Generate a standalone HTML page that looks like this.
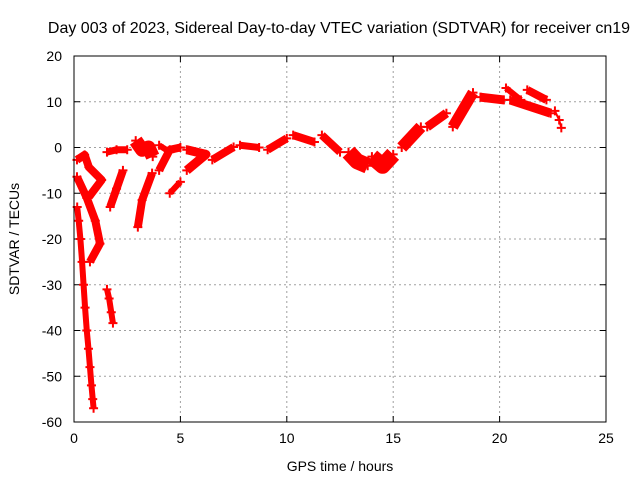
<!DOCTYPE html>
<html><head><meta charset="utf-8"><style>
html,body{margin:0;padding:0;background:#fff;}
svg{display:block;font-family:"Liberation Sans",sans-serif;}
</style></head><body>
<svg id="chart" width="640" height="480" viewBox="0 0 640 480">
<text x="339" y="33" text-anchor="middle" font-size="16">Day 003 of 2023, Sidereal Day-to-day VTEC variation (SDTVAR) for receiver cn19</text>
<g id="grid"></g>
<g id="ticks"></g>
<g id="marks"></g>
<rect x="74" y="56" width="532" height="366" fill="none" stroke="#000" stroke-width="1"/>
<text x="340" y="471" text-anchor="middle" font-size="14">GPS time / hours</text>
<text transform="translate(19,239) rotate(-90)" text-anchor="middle" font-size="14">SDTVAR / TECUs</text>
</svg>
<script>
const xTicks=[0,5,10,15,20,25];
const yTicks=[-60,-50,-40,-30,-20,-10,0,10,20];
const tracks=[
[[0.15,-13],[0.22,-16],[0.3,-20],[0.38,-25],[0.45,-30],[0.52,-35],[0.6,-40],[0.68,-44],[0.75,-48],[0.82,-52],[0.88,-55],[0.92,-57]],
[[0.14,-6.4],[0.6,-11],[1.0,-16],[1.22,-21],[0.75,-25]],
[[0.14,-2.7],[0.5,-1.6],[0.7,-4.3],[1.3,-7.1],[0.7,-10.8]],
[[1.55,-31],[1.65,-33],[1.75,-36],[1.83,-38.4]],
[[1.7,-13],[2.0,-9],[2.3,-5]],
[[1.55,-1],[2.0,-0.5],[2.5,-0.5]],
[[3.0,-17.4],[3.2,-11.5],[3.67,-5.6]],
[[2.9,1.5],[3.2,-0.5],[3.5,0],[3.7,-2]],
[[4.0,-5],[4.5,-0.5],[5.0,0]],
[[4.0,0.5],[4.5,-1]],
[[4.5,-10],[5.0,-7.5]],
[[5.3,-0.5],[6.2,-1.5],[5.3,-5]],
[[6.5,-2.7],[7.5,0.1]],
[[7.8,0.5],[8.7,0]],
[[9.1,-0.5],[10,2]],
[[10.3,2.7],[11.3,1.2]],
[[11.65,2.7],[12.5,-1]],
[[12.9,-1],[13.3,-3],[13.8,-4]],
[[14.0,-2],[14.5,-4],[15.0,-1.5]],
[[15.4,0],[16.3,4.5]],
[[16.6,4.5],[17.5,7.5]],
[[17.8,4.5],[18.75,12]],
[[19.1,11],[20.2,10.4]],
[[20.3,13],[21,10.4]],
[[20.5,10.4],[22.4,7.5]],
[[21.3,12.6],[22.2,10.4]],
[[22.6,8],[22.8,6],[22.9,4.3]]
];
const widths=[6,8,8,6,8,7,8,14,8,6,6,9,8,7,8,8,8,16,16,12,9,11,9,6,9,8,2];
const X=t=>74+t*(532/25);
const Y=v=>56+(20-v)*(366/80);
const NS='http://www.w3.org/2000/svg';
const grid=document.getElementById('grid'),ticks=document.getElementById('ticks'),marks=document.getElementById('marks');
function mk(tag,attrs,parent){const e=document.createElementNS(NS,tag);for(const k in attrs)e.setAttribute(k,attrs[k]);parent.appendChild(e);return e;}
xTicks.forEach(t=>{
  if(t>0&&t<25){const g=mk('line',{x1:X(t),x2:X(t),y1:56,y2:422,stroke:'#a0a0a0','stroke-dasharray':'2,3'},grid);
  
  }
  const tk=mk('path',{d:`M${X(t)},422v-6M${X(t)},56v6`,stroke:'#000'},ticks);
  
  
  const l=mk('text',{x:X(t),y:443,'text-anchor':'middle','font-size':'14'},ticks);l.textContent=t;
  
  
});
yTicks.forEach(v=>{
  if(v>-60&&v<20){const g=mk('line',{x1:74,x2:606,y1:Y(v),y2:Y(v),stroke:'#a0a0a0','stroke-dasharray':'2,3'},grid);
  
  }
  const tk=mk('path',{d:`M74,${Y(v)}h6M606,${Y(v)}h-6`,stroke:'#000'},ticks);
  
  
  const l=mk('text',{x:62,y:Y(v)+5,'text-anchor':'end','font-size':'14'},ticks);l.textContent=v;
  
  
});
tracks.forEach((tr,i)=>{
  const p=mk('polyline',{points:tr.map(d=>X(d[0])+','+Y(d[1])).join(' '),fill:'none',stroke:'#f00','stroke-width':widths[i],'stroke-linejoin':'round','stroke-linecap':'butt'},marks);
  
  
  tr.forEach(d=>{
    const m=mk('path',{d:`M${X(d[0])-4.5},${Y(d[1])}h9M${X(d[0])},${Y(d[1])-4.5}v9`,stroke:'#f00','stroke-width':'2'},marks);
    
    
  });
});
</script>
</body></html>
